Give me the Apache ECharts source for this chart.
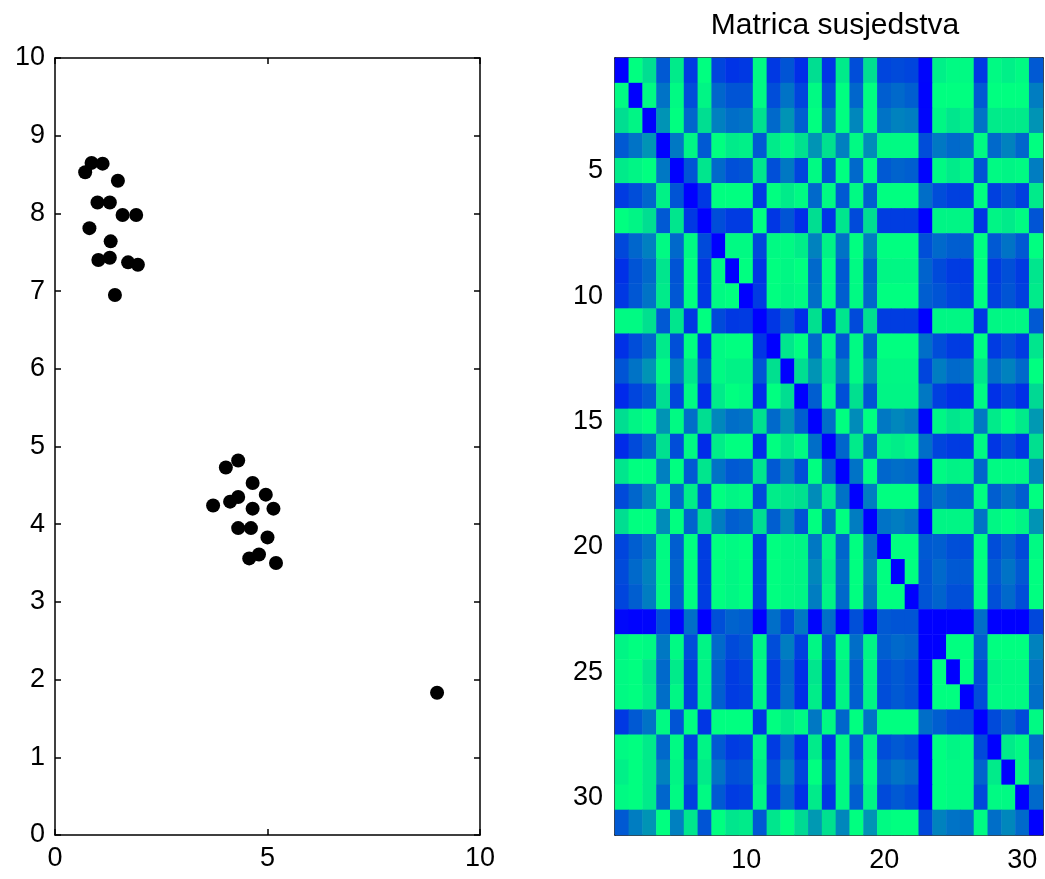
<!DOCTYPE html>
<html>
<head>
<meta charset="utf-8">
<script src="https://cdn.jsdelivr.net/npm/echarts@6/dist/echarts.min.js"></script>
<style>
  html, body { margin: 0; padding: 0; background: #fff; }
  #chart { width: 1045px; height: 879px; }
</style>
</head>
<body>
<div id="chart"></div>
<script>
// scatter points (left plot)
const ptX = [0.71, 0.86, 1.12, 1.48, 1.00, 1.29, 1.59, 1.91, 0.81, 1.31, 1.02, 1.29, 1.72, 1.95, 1.41,
  4.02, 4.31, 4.65, 4.96, 4.31, 4.12, 3.72, 4.65, 5.14, 4.31, 4.61, 5.00, 4.80, 4.57, 5.20,
  8.99];
const ptY = [8.53, 8.65, 8.64, 8.42, 8.14, 8.14, 7.98, 7.98, 7.81, 7.64, 7.40, 7.43, 7.37, 7.34, 6.95,
  4.73, 4.82, 4.53, 4.38, 4.35, 4.29, 4.24, 4.20, 4.20, 3.95, 3.95, 3.83, 3.61, 3.56, 3.50,
  1.83];
const scatterXTicks = [0, 5, 10];
const scatterYTicks = [0, 1, 2, 3, 4, 5, 6, 7, 8, 9, 10];

// adjacency matrix (right plot), rows top -> bottom
const heatCats = ['1', '2', '3', '4', '5', '6', '7', '8', '9', '10', '11', '12', '13', '14', '15', '16',
  '17', '18', '19', '20', '21', '22', '23', '24', '25', '26', '27', '28', '29', '30', '31'];
const heatXLabels = ['10', '20', '30'];
const heatYLabels = ['5', '10', '15', '20', '25', '30'];
const adj = [
  [0, 1.0, .87, .35, .92, .23, 1.0, .27, .2, .22, .98, .22, .33, .18, .87, .2, .92, .3, .87, .27, .29, .27, .02, .94, .98, .98, .22, .98, .94, .98, .35],
  [.98, 0, .98, .45, .98, .3, .96, .4, .33, .33, .98, .3, .45, .27, .98, .3, 1.0, .4, 1.0, .37, .41, .37, .01, 1.0, 1.0, 1.0, .35, 1.0, 1.0, 1.0, .49],
  [.87, .96, 0, .58, 1.0, .4, .87, .5, .43, .45, .88, .41, .58, .37, 1.0, .43, 1.0, .53, 1.0, .45, .51, .49, .02, .97, .9, .94, .45, .92, .92, .92, .58],
  [.35, .45, .58, 0, .47, .96, .35, 1.0, .92, .94, .35, .92, .98, .88, .58, .88, .5, .98, .55, .98, .98, .98, .3, .47, .41, .43, .98, .41, .51, .4, 1.0],
  [.92, .96, 1.0, .47, 0, .33, .9, .41, .31, .33, .9, .31, .47, .27, .98, .31, 1.0, .41, 1.0, .35, .39, .37, .01, .98, .92, .97, .33, .98, .96, .98, .49],
  [.23, .3, .4, .95, .33, 0, .22, 1.0, 1.0, 1.0, .23, 1.0, .92, .98, .41, .98, .35, .98, .37, 1.0, 1.0, 1.0, .43, .3, .25, .25, 1.0, .25, .33, .25, .92],
  [1.0, .96, .87, .35, .9, .22, 0, .3, .23, .23, 1.0, .21, .33, .18, .87, .2, .9, .29, .87, .24, .24, .24, 0, .96, .96, .96, .21, .96, .92, .98, .33],
  [.28, .4, .5, .98, .41, .98, .29, 0, .98, .98, .28, .98, .98, .93, .51, .95, .45, 1.0, .49, 1.0, 1.0, 1.0, .31, .41, .37, .37, 1.0, .35, .45, .35, 1.0],
  [.19, .33, .41, .9, .33, 1.0, .21, .98, 0, 1.0, .21, 1.0, .97, 1.0, .41, 1.0, .35, .98, .37, .97, .97, .97, .39, .29, .23, .23, 1.0, .23, .31, .23, .9],
  [.22, .34, .45, .92, .34, 1.0, .22, .98, 1.0, 0, .23, 1.0, .96, .98, .43, 1.0, .37, .98, .4, 1.0, 1.0, 1.0, .37, .33, .27, .25, 1.0, .25, .33, .25, .92],
  [.98, .98, .88, .35, .9, .22, 1.0, .29, .22, .23, 0, .21, .34, .18, .88, .2, .9, .29, .88, .24, .24, .24, 0, .97, .97, .97, .22, .97, .97, .97, .35],
  [.19, .3, .4, .92, .31, 1.0, .2, .98, 1.0, 1.0, .21, 0, .9, 1.0, .41, .98, .35, .98, .37, 1.0, 1.0, 1.0, .43, .3, .23, .23, 1.0, .23, .31, .23, .9],
  [.33, .45, .58, .98, .47, .9, .33, .98, .95, .95, .33, .88, 0, .87, .58, .9, .5, .98, .53, .97, .97, .97, .27, .49, .41, .43, .9, .43, .51, .41, 1.0],
  [.16, .27, .35, .87, .27, .98, .18, .92, 1.0, .98, .18, 1.0, .87, 0, .37, .98, .31, .88, .33, .96, .96, .96, .47, .25, .19, .19, .98, .19, .27, .19, .85],
  [.87, .96, 1.0, .58, .98, .43, .87, .53, .43, .45, .88, .41, .58, .37, 0, .43, 1.0, .55, 1.0, .47, .53, .49, .02, .97, .9, .94, .47, .92, 1.0, .92, .6],
  [.17, .29, .4, .88, .3, .98, .17, .93, 1.0, 1.0, .18, 1.0, .9, .98, .43, 0, .4, .92, .4, .96, .93, .96, .43, .27, .23, .23, .98, .21, .3, .21, .88],
  [.9, 1.0, 1.0, .5, 1.0, .35, .9, .45, .35, .37, .9, .35, .51, .31, 1.0, .4, 0, .45, 1.0, .4, .43, .41, .01, .98, .95, .96, .4, .98, .98, .98, .53],
  [.29, .4, .53, .98, .41, .93, .29, 1.0, .96, .98, .29, .93, .9, .88, .55, .92, .45, 0, .49, 1.0, 1.0, 1.0, .31, .43, .37, .37, 1.0, .37, .45, .37, 1.0],
  [.87, 1.0, 1.0, .55, 1.0, .39, .87, .49, .37, .4, .87, .37, .55, .33, 1.0, .4, 1.0, .49, 0, .45, .49, .45, .01, .96, .96, .96, .45, .97, 1.0, .96, .58],
  [.27, .37, .45, .98, .37, 1.0, .24, 1.0, .98, 1.0, .24, 1.0, .97, .96, .47, .96, .4, 1.0, .45, 0, 1.0, 1.0, .35, .37, .31, .3, 1.0, .3, .39, .29, .98],
  [.29, .41, .51, .98, .39, 1.0, .24, 1.0, .97, 1.0, .24, 1.0, .97, .96, .53, .93, .43, 1.0, .49, 1.0, 0, 1.0, .33, .41, .35, .35, 1.0, .35, .45, .35, 1.0],
  [.27, .37, .49, .98, .37, 1.0, .24, 1.0, .97, 1.0, .24, 1.0, .97, .96, .49, .96, .41, 1.0, .45, 1.0, 1.0, 0, .33, .39, .31, .31, 1.0, .31, .41, .3, 1.0],
  [.03, .01, .02, .3, .01, .43, 0, .31, .39, .37, 0, .43, .27, .47, .02, .43, .01, .31, .01, .35, .33, .33, 0, 0, 0, 0, .43, 0, 0, 0, .28],
  [.96, 1.0, .98, .47, .98, .3, .96, .41, .29, .33, .97, .3, .49, .25, .97, .3, .98, .43, .96, .37, .41, .39, 0, 0, 1.0, 1.0, .37, 1.0, 1.0, 1.0, .51],
  [.98, 1.0, .9, .41, .92, .25, .96, .37, .23, .27, .97, .23, .41, .19, .9, .23, .95, .37, .96, .31, .35, .31, 0, 1.0, 0, 1.0, .3, .96, .98, .98, .45],
  [.98, 1.0, .93, .43, .97, .25, .96, .37, .23, .25, .97, .23, .43, .19, .93, .23, .96, .37, .96, .3, .35, .31, 0, 1.0, 1.0, 0, .3, .98, .98, .98, .43],
  [.22, .35, .45, .98, .33, 1.0, .21, 1.0, 1.0, 1.0, .22, 1.0, .92, .98, .47, .98, .4, 1.0, .45, 1.0, 1.0, 1.0, .43, .37, .3, .3, 0, .29, .39, .29, .98],
  [.98, 1.0, .92, .41, .98, .25, .96, .35, .23, .25, .97, .23, .43, .19, .92, .21, .98, .37, .97, .3, .35, .31, 0, 1.0, .96, .98, .29, 0, .92, .98, .43],
  [.94, 1.0, .92, .51, .96, .33, .92, .45, .31, .33, .94, .31, .51, .27, 1.0, .3, .98, .45, 1.0, .39, .45, .41, 0, 1.0, .98, .98, .39, .92, 0, .98, .53],
  [.98, 1.0, .92, .4, .98, .25, .98, .35, .23, .25, .97, .23, .41, .19, .92, .21, .98, .37, .96, .29, .35, .3, 0, 1.0, .98, .98, .29, .98, .98, 0, .41],
  [.35, .49, .58, 1.0, .5, .9, .33, 1.0, .9, .92, .35, .9, 1.0, .85, .6, .88, .53, 1.0, .58, .98, 1.0, 1.0, .28, .51, .45, .43, .98, .43, .53, .41, 0]
];

const FONT = "'Liberation Sans', Arial, Helvetica, sans-serif";
const chart = echarts.init(document.getElementById("chart"));

// build series data
const scatterData = ptX.map((x, i) => [x, ptY[i]]);
const heatData = [];
adj.forEach((row, r) => {
  row.forEach((v, c) => {
    heatData.push([c, r, v]);
  });
});

const lineStyle = { color: "#000", width: 1.5 };
const labelStyle = { color: "#000", fontSize: 27, fontFamily: FONT };

// value axis with ticks inside, optionally without labels (mirror axes)
function valAxis(gridIndex, position, ticks, showLabel) {
  return {
    type: "value",
    gridIndex: gridIndex,
    position: position,
    min: 0,
    max: 10,
    interval: ticks[1] - ticks[0],
    axisLine: { show: true, onZero: false, lineStyle: lineStyle },
    axisTick: { show: true, inside: true, length: 6, lineStyle: lineStyle },
    axisLabel: Object.assign({ show: showLabel, margin: 10 }, labelStyle),
    splitLine: { show: false },
  };
}

function catAxis(gridIndex, position, labels, showLabel, inverse) {
  const keep = (idx, val) => labels.indexOf(val) >= 0;
  return {
    type: "category",
    gridIndex: gridIndex,
    position: position,
    data: heatCats,
    inverse: !!inverse,
    axisLine: { show: true, onZero: false, lineStyle: lineStyle },
    axisTick: { show: true, inside: true, length: 6, alignWithLabel: true, interval: keep, lineStyle: lineStyle },
    axisLabel: Object.assign({ show: showLabel, interval: keep, margin: 12 }, labelStyle),
    splitLine: { show: false },
  };
}

const option = {
  animation: false,
  backgroundColor: "#fff",
  title: {
    text: "Matrica susjedstva",
    left: 830,
    top: 6,
    textAlign: "center",
    textStyle: { color: "#000", fontSize: 30, fontWeight: "normal", fontFamily: FONT },
  },
  grid: [
    { left: 55, top: 58, width: 425, height: 777 },
    { left: 615, top: 58, width: 428, height: 777 },
  ],
  xAxis: [
    valAxis(0, "bottom", scatterXTicks, true),
    valAxis(0, "top", scatterXTicks, false),
    catAxis(1, "bottom", heatXLabels, true, false),
    catAxis(1, "top", heatXLabels, false, false),
  ],
  yAxis: [
    valAxis(0, "left", scatterYTicks, true),
    valAxis(0, "right", scatterYTicks, false),
    catAxis(1, "left", heatYLabels, true, true),
    catAxis(1, "right", heatYLabels, false, true),
  ],
  visualMap: {
    show: false,
    seriesIndex: 1,
    min: 0,
    max: 1,
    inRange: { color: ["#0000ff", "#00ff80"] },
  },
  series: [
    {
      type: "scatter",
      xAxisIndex: 0,
      yAxisIndex: 0,
      symbolSize: 14,
      itemStyle: { color: "#000", opacity: 1 },
      data: scatterData,
    },
    {
      type: "heatmap",
      xAxisIndex: 2,
      yAxisIndex: 2,
      data: heatData,
      itemStyle: { borderWidth: 0 },
      emphasis: { disabled: true },
      z: 1,
    },
  ],
};
chart.setOption(option);
</script>
</body>
</html>
